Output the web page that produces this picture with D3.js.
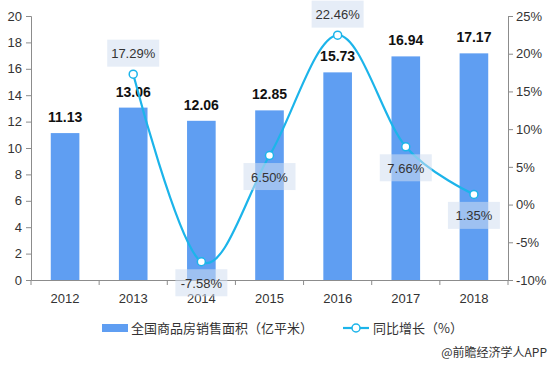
<!DOCTYPE html>
<html><head><meta charset="utf-8">
<script src="https://cdn.jsdelivr.net/npm/d3@7/dist/d3.min.js"></script>
<style>body{margin:0;background:#fff}svg{display:block;font-family:"Liberation Sans",Arial,sans-serif}</style>
</head><body><svg id="c" width="553" height="365"></svg>
<script>
const years = ["2012","2013","2014","2015","2016","2017","2018"];
const area = [11.13,13.06,12.06,12.85,15.73,16.94,17.17];
const growth = [null,17.29,-7.58,6.50,22.46,7.66,1.35];
const growthLabels = ["","17.29%","-7.58%","6.50%","22.46%","7.66%","1.35%"];
const labelPos = [0,-1,1,1,-1,1,1];
const leftTicks = [0,2,4,6,8,10,12,14,16,18,20];
const rightTicks = [-10,-5,0,5,10,15,20,25];

const svg = d3.select("#c");
const L=31,R=508,T=16,B=280;
const x = d3.scaleBand().domain(years).range([L,R]).paddingInner(0.58).paddingOuter(0.29);
const xb = d3.scaleBand().domain(years).range([L,R]);
const y = d3.scaleLinear().domain([0,20]).range([B,T]);
const y2 = d3.scaleLinear().domain([-10,25]).range([B,T]);
const axisColor="#8c8c8c", txt="#333";

// bars
svg.append("g").selectAll("rect").data(area).join("rect")
 .attr("x",(d,i)=>x(years[i])).attr("width",x.bandwidth())
 .attr("y",d=>y(d)).attr("height",d=>B-y(d)).attr("fill","#5f9ef2");

// axes
const gl = svg.append("g").attr("transform",`translate(${L},0)`).call(d3.axisLeft(y).tickValues(leftTicks).tickSize(5).tickPadding(4));
const gr = svg.append("g").attr("transform",`translate(${R},0)`).call(d3.axisRight(y2).tickValues(rightTicks).tickSize(5).tickPadding(3).tickFormat(d=>d+"%"));
const gb = svg.append("g").attr("transform",`translate(0,${B})`).call(d3.axisBottom(xb).tickSize(0).tickPadding(14));
[gl,gr,gb].forEach(g=>{g.select(".domain").attr("stroke",axisColor);g.selectAll(".tick line").attr("stroke",axisColor);
 g.selectAll("text").attr("fill",txt).style("font-size","13px");});
// bottom boundary ticks
svg.append("g").selectAll("line").data(d3.range(years.length+1)).join("line")
 .attr("x1",i=>L+i*xb.step()).attr("x2",i=>L+i*xb.step()).attr("y1",B).attr("y2",B+5).attr("stroke",axisColor);

// bar labels
svg.append("g").selectAll("text").data(area).join("text")
 .attr("x",(d,i)=>x(years[i])+x.bandwidth()/2).attr("y",d=>y(d)-11)
 .attr("text-anchor","middle").attr("font-weight","bold").style("font-size","14px").attr("fill","#111")
 .text(d=>d.toFixed(2));

// line
const pts = growth.map((g,i)=>g===null?null:[xb(years[i])+xb.bandwidth()/2,y2(g)]).filter(p=>p);
const lineColor="#1cb4ea";
svg.append("path").attr("d",d3.line().curve(d3.curveCatmullRom.alpha(0))(pts))
 .attr("fill","none").attr("stroke",lineColor).attr("stroke-width",2.2);
svg.append("g").selectAll("circle").data(pts).join("circle")
 .attr("cx",d=>d[0]).attr("cy",d=>d[1]).attr("r",4).attr("fill","#fff").attr("stroke",lineColor).attr("stroke-width",1.5);

// growth labels
const lg = svg.append("g");
growth.forEach((g,i)=>{ if(g===null) return;
 const cx = xb(years[i])+xb.bandwidth()/2, cy = y2(g)+labelPos[i]*21;
 lg.append("rect").attr("x",cx-26).attr("y",cy-13.5).attr("width",52).attr("height",27)
   .attr("fill","rgb(210,223,240)").attr("fill-opacity",0.55);
 lg.append("text").attr("x",cx).attr("y",cy+5).attr("text-anchor","middle").style("font-size","13px").attr("fill",txt).text(growthLabels[i]);
});

// legend
const lgY=328;
svg.append("rect").attr("x",102).attr("y",lgY-4).attr("width",26).attr("height",8).attr("fill","#5f9ef2");
svg.append("text").attr("x",131).attr("y",lgY+5).style("font-size","13px").attr("fill",txt).style("font-family","'Noto Sans CJK SC',sans-serif").text("全国商品房销售面积（亿平米）");
svg.append("line").attr("x1",343).attr("x2",369).attr("y1",lgY).attr("y2",lgY).attr("stroke",lineColor).attr("stroke-width",2.2);
svg.append("circle").attr("cx",356).attr("cy",lgY).attr("r",4).attr("fill","#fff").attr("stroke",lineColor).attr("stroke-width",1.5);
svg.append("text").attr("x",373).attr("y",lgY+5).style("font-size","13px").attr("fill",txt).style("font-family","'Noto Sans CJK SC',sans-serif").text("同比增长（%）");

svg.append("text").attr("x",547).attr("y",357).attr("text-anchor","end").style("font-size","12px").attr("fill",txt).style("font-family","'Noto Sans CJK SC',sans-serif").text("@前瞻经济学人APP");
</script></body></html>
